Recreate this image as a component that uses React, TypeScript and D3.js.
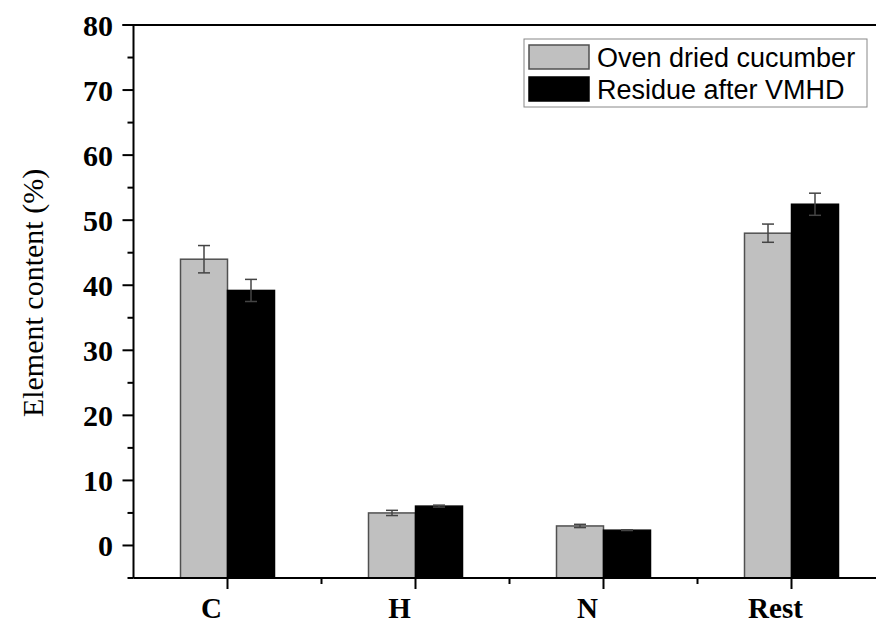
import React from "react";
import * as d3 from "d3";

const categories = ["C", "H", "N", "Rest"];
const seriesNames = ["Oven dried cucumber", "Residue after VMHD"];
const ovenValues = [44.0, 5.0, 3.0, 48.0];
const ovenErrors = [2.1, 0.4, 0.25, 1.4];
const residueValues = [39.2, 6.05, 2.35, 52.45];
const residueErrors = [1.7, 0.15, 0.05, 1.7];
const yTicks = [0, 10, 20, 30, 40, 50, 60, 70, 80];
const yMinorTicks = [-5, 5, 15, 25, 35, 45, 55, 65, 75];

const W = 876;
const H = 624;
const left = 133.5;
const bottom = 578;
const top = 25;

export default function App() {
  const y = d3.scaleLinear().domain([-5, 80]).range([bottom, top]);
  const x = d3.scaleLinear().domain([-0.5, 3.5]).range([left, left + 4 * 188]);
  const bw = 47;
  const series = [
    { name: seriesNames[0], values: ovenValues, errors: ovenErrors, fill: "#c0c0c0", stroke: "#505050", off: -bw },
    { name: seriesNames[1], values: residueValues, errors: residueErrors, fill: "#000000", stroke: "#000000", off: 0 },
  ];
  const serif = "'Liberation Serif', 'Times New Roman', serif";
  const sans = "'Liberation Sans', Arial, sans-serif";
  const halfTicks = [0.5, 1.5, 2.5];
  return (
    <svg width={W} height={H} style={{ position: "absolute", left: 0, top: 0, background: "#fff" }}>
      {series.map((s, si) =>
        s.values.map((v, i) => {
          const cx = x(i) + s.off;
          return (
            <g key={si + "-" + i}>
              <rect x={cx} y={y(v)} width={bw} height={bottom - y(v)} fill={s.fill} stroke={s.stroke} strokeWidth={1.5} />
              <line x1={cx + bw / 2} x2={cx + bw / 2} y1={y(v + s.errors[i])} y2={y(v - s.errors[i])} stroke="#444" strokeWidth={1.5} />
              <line x1={cx + bw / 2 - 6} x2={cx + bw / 2 + 6} y1={y(v + s.errors[i])} y2={y(v + s.errors[i])} stroke="#444" strokeWidth={1.5} />
              <line x1={cx + bw / 2 - 6} x2={cx + bw / 2 + 6} y1={y(v - s.errors[i])} y2={y(v - s.errors[i])} stroke="#444" strokeWidth={1.5} />
            </g>
          );
        })
      )}
      {/* axes */}
      <line x1={left} x2={left} y1={top} y2={bottom} stroke="#000" strokeWidth={2} />
      <line x1={left - 11} x2={W} y1={top} y2={top} stroke="#000" strokeWidth={2} />
      <line x1={left} x2={W} y1={bottom} y2={bottom} stroke="#000" strokeWidth={2} />
      {yTicks.map((t) => (
        <g key={"yt" + t}>
          <line x1={left - 11} x2={left} y1={y(t)} y2={y(t)} stroke="#000" strokeWidth={2} />
          <text x={113} y={y(t)} dy="0.35em" textAnchor="end" fontFamily={serif} fontWeight="bold" fontSize={30}>
            {t}
          </text>
        </g>
      ))}
      {yMinorTicks.map((t) => (
        <line key={"ym" + t} x1={left - 6} x2={left} y1={y(t)} y2={y(t)} stroke="#000" strokeWidth={2} />
      ))}
      {categories.map((c, i) => (
        <g key={"xc" + c}>
          <line x1={x(i)} x2={x(i)} y1={bottom} y2={bottom + 11} stroke="#000" strokeWidth={2} />
          <text x={x(i) - 16} y={618} textAnchor="middle" fontFamily={serif} fontWeight="bold" fontSize={29}>
            {c}
          </text>
        </g>
      ))}
      {halfTicks.map((t) => (
        <line key={"xm" + t} x1={x(t)} x2={x(t)} y1={bottom} y2={bottom + 6} stroke="#000" strokeWidth={2} />
      ))}
      <text transform={`translate(43, 293) rotate(-90)`} textAnchor="middle" fontFamily={serif} fontSize={30}>
        Element content (%)
      </text>
      {/* legend */}
      <rect x={524} y={39} width={343} height={68} fill="#fff" stroke="#888" strokeWidth={1} />
      {series.map((s, i) => (
        <g key={"lg" + i}>
          <rect x={529} y={45 + i * 32} width={60} height={24} fill={s.fill} stroke={s.stroke} strokeWidth={1.5} />
          <text x={597} y={57 + i * 32} dy="0.36em" fontFamily={sans} fontSize={27}>
            {s.name}
          </text>
        </g>
      ))}
    </svg>
  );
}
